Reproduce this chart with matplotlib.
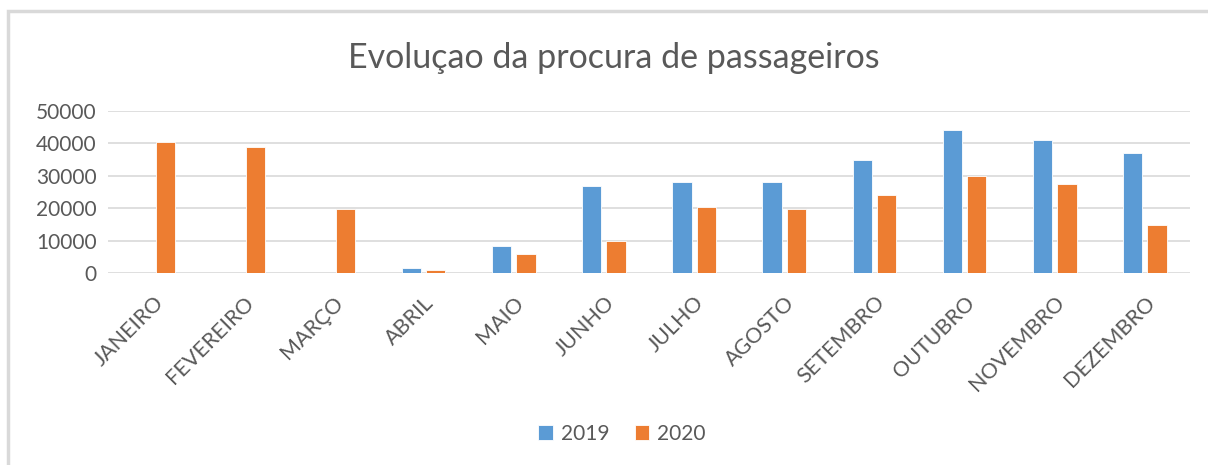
import matplotlib.pyplot as plt
from matplotlib.patches import Rectangle
import numpy as np

plt.rcParams['font.family'] = ['Lato', 'DejaVu Sans']

meses = ["JANEIRO", "FEVEREIRO", "MARÇO", "ABRIL", "MAIO", "JUNHO",
         "JULHO", "AGOSTO", "SETEMBRO", "OUTUBRO", "NOVEMBRO", "DEZEMBRO"]
anos = ["2019", "2020"]
procura_2019 = [0, 0, 0, 1650, 8450, 27000, 28000, 28000, 35000, 44200, 41000, 37000]
procura_2020 = [40500, 39000, 19600, 800, 6000, 10000, 20300, 19600, 24200, 29900, 27500, 14700]
yticks = [0, 10000, 20000, 30000, 40000, 50000]

azul = "#5B9BD5"
laranja = "#ED7D31"
cinza = "#595959"

fig = plt.figure(figsize=(12.08, 4.65), dpi=100)
ax = fig.add_axes([108/1208, 192/465, 1082/1208, 162/465])

x = np.arange(len(meses))
larg = 0.215
ax.bar(x - 0.135, procura_2019, larg, color=azul, edgecolor="white", linewidth=0.6, label=anos[0], zorder=3)
ax.bar(x + 0.135, procura_2020, larg, color=laranja, edgecolor="white", linewidth=0.6, label=anos[1], zorder=3)

ax.set_xlim(-0.5, 11.5)
ax.set_ylim(0, 50000)
ax.set_yticks(yticks)
ax.set_yticklabels([str(v) for v in yticks], fontsize=15, color=cinza)
ax.set_xticks(x)
ax.set_xticklabels(meses, rotation=45, ha="right", rotation_mode="anchor", fontsize=15.5, color=cinza)
ax.tick_params(axis="both", length=0)
ax.tick_params(axis="x", pad=14)
ax.tick_params(axis="y", pad=8)
ax.grid(axis="y", color="#d9d9d9", linewidth=1.2, zorder=0)
for s in ax.spines.values():
    s.set_visible(False)

fig.text(614/1208, 1 - 58/465, "Evoluçao da procura de passageiros", ha="center", va="center",
         fontsize=24.5, color=cinza)

fig.legend(loc="center", bbox_to_anchor=(622/1208, 1 - 434/465), ncol=2, frameon=False,
           fontsize=15, labelcolor=cinza, handlelength=0.7, handleheight=0.7,
           handletextpad=0.4, columnspacing=1.2)

# moldura do gráfico
fig.patches.append(Rectangle((8/1208, -0.1), 1.2, 1 - 11/465 + 0.1, transform=fig.transFigure,
                             fill=False, edgecolor="#d9d9d9", linewidth=2.5))

fig.savefig("out.png", dpi=100, facecolor="white")
